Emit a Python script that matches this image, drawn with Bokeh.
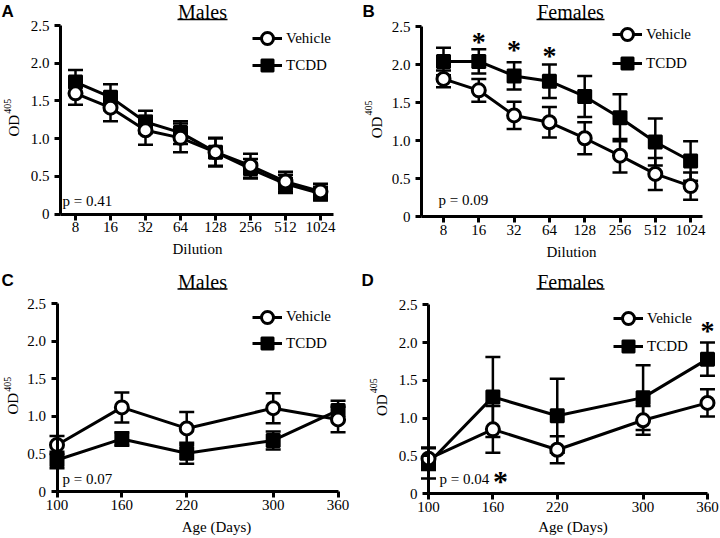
import math
from bokeh.plotting import figure
from bokeh.models import (ColumnDataSource, Whisker, TeeHead, Label, Legend,
                          LegendItem, FixedTicker, Range1d)
from bokeh.layouts import gridplot
from bokeh.embed import file_html
from bokeh.resources import INLINE

# ---------------- data ----------------
dilutions = ["8", "16", "32", "64", "128", "256", "512", "1024"]
ages = [100, 160, 220, 300, 360]
y_ticks = [0, 0.5, 1.0, 1.5, 2.0, 2.5]
y_tick_labels = ["0", "0.5", "1.0", "1.5", "2.0", "2.5"]

# A: Males, dilution
a_vehicle = [1.60, 1.41, 1.11, 1.01, 0.82, 0.64, 0.43, 0.30]
a_vehicle_err = [0.15, 0.18, 0.19, 0.19, 0.18, 0.16, 0.13, 0.10]
a_tcdd = [1.75, 1.55, 1.22, 1.08, 0.82, 0.60, 0.40, 0.27]
a_tcdd_err = [0.16, 0.17, 0.15, 0.15, 0.19, 0.13, 0.12, 0.09]

# B: Females, dilution
b_vehicle = [1.81, 1.66, 1.33, 1.24, 1.03, 0.80, 0.56, 0.40]
b_vehicle_err = [0.11, 0.15, 0.18, 0.20, 0.21, 0.22, 0.21, 0.18]
b_tcdd = [2.04, 2.04, 1.85, 1.78, 1.58, 1.30, 0.98, 0.73]
b_tcdd_err = [0.18, 0.16, 0.18, 0.22, 0.27, 0.31, 0.31, 0.26]
b_star_idx = [1, 2, 3]
b_star_y = [2.33, 2.22, 2.15]

# C: Males, age
c_vehicle = [0.62, 1.12, 0.84, 1.11, 0.96]
c_vehicle_err = [0.12, 0.20, 0.22, 0.20, 0.17]
c_tcdd = [0.42, 0.70, 0.51, 0.68, 1.08]
c_tcdd_err = [0.11, 0.09, 0.14, 0.12, 0.13]

# D: Females, age
d_vehicle = [0.46, 0.85, 0.58, 0.97, 1.20]
d_vehicle_err = [0.15, 0.31, 0.18, 0.19, 0.18]
d_tcdd = [0.40, 1.28, 1.03, 1.27, 1.78]
d_tcdd_err = [0.20, 0.53, 0.49, 0.43, 0.22]
d_star_x = [360]
d_star_y = [2.18]

p_values = ["p = 0.41", "p = 0.09", "p = 0.07", "p = 0.04"]

SERIF = "Liberation Serif"
SANS = "Liberation Sans"
W, H = 360, 269


def make_panel(cfg):
    y0px, y25px = cfg["ymap"]
    ppu = (y0px - y25px) / 2.5
    xpx0, xv0, xs = cfg["xmap"]

    def fx(px):
        return xv0 + (px - xpx0) / xs

    def fy(py):
        return (y0px - py) / ppu

    p = figure(width=W, height=H, x_range=Range1d(fx(0), fx(W)),
               y_range=Range1d(fy(H), fy(0)), output_backend="svg",
               toolbar_location=None, min_border_left=0, min_border_right=0,
               min_border_top=0, min_border_bottom=0)
    p.grid.visible = False
    p.outline_line_color = None
    p.background_fill_color = "white"
    p.border_fill_color = "white"

    for ax in p.axis:
        ax.axis_line_width = 3
        ax.axis_line_color = "black"
        ax.major_tick_line_width = 3
        ax.major_tick_line_color = "black"
        ax.major_tick_out = 6
        ax.major_tick_in = 0
        ax.minor_tick_line_color = None
        ax.major_label_text_font = SERIF
        ax.major_label_text_font_size = "15px"
        ax.major_label_text_color = "black"

    ax_x = fx(cfg["yaxis_px"])
    p.yaxis.fixed_location = ax_x
    p.yaxis.bounds = (0, 2.5)
    p.yaxis.ticker = FixedTicker(ticks=y_ticks)
    p.yaxis.major_label_overrides = {t: s for t, s in zip(y_ticks, y_tick_labels)}
    p.yaxis.major_label_standoff = 5

    xvals = cfg["x"]
    p.xaxis.fixed_location = 0
    p.xaxis.bounds = (ax_x, fx(cfg["xend_px"]))
    p.xaxis.ticker = FixedTicker(ticks=list(xvals))
    p.xaxis.major_label_overrides = {v: s for v, s in zip(xvals, cfg["xlabels"])}
    p.xaxis.major_label_standoff = 2

    renderers = {}
    for name, vals, errs, marker in [("TCDD", cfg["tcdd"], cfg["tcdd_err"], "square"),
                                     ("Vehicle", cfg["veh"], cfg["veh_err"], "circle")]:
        src = ColumnDataSource(dict(x=list(xvals), y=vals,
                                    lo=[v - e for v, e in zip(vals, errs)],
                                    hi=[v + e for v, e in zip(vals, errs)]))
        wh = Whisker(source=src, base="x", upper="hi", lower="lo",
                     line_width=2.5, line_color="black", level="underlay",
                     upper_head=TeeHead(size=15, line_width=2.5, line_color="black"),
                     lower_head=TeeHead(size=15, line_width=2.5, line_color="black"))
        p.add_layout(wh)
        ln = p.line("x", "y", source=src, line_width=3, line_color="black")
        if marker == "square":
            sc = p.scatter("x", "y", source=src, marker="square", size=13,
                           fill_color="black", line_color="black", line_width=2)
        else:
            sc = p.scatter("x", "y", source=src, marker="circle", size=13,
                           fill_color="white", line_color="black", line_width=3)
        renderers[name] = [ln, sc]

    # one legend per row so that each row can be placed exactly
    lx, rows = cfg["legend"]
    for name, rc in zip(["Vehicle", "TCDD"], rows):
        leg = Legend(items=[LegendItem(label=name, renderers=renderers[name])],
                     location=(lx, H - (rc + 19)), glyph_width=30, glyph_height=38,
                     spacing=0, padding=0, margin=0, border_line_color=None,
                     background_fill_alpha=0, label_standoff=4,
                     label_text_font=SERIF, label_text_font_size="15px",
                     label_text_color="black")
        p.add_layout(leg)

    def text(t, px, py, size, align="left", font=SERIF, style="normal",
             angle=0.0, yoff=0):
        p.add_layout(Label(x=fx(px), y=fy(py), text=t, text_font=font,
                           text_font_size=f"{size}px", text_font_style=style,
                           text_align=align, text_baseline="middle",
                           text_color="black", angle=angle, y_offset=yoff))

    # panel letter
    lpx, lpy = cfg["letter_pos"]
    text(cfg["letter"], lpx, lpy, 17, font=SANS, style="bold")
    # title + underline
    tcx, tcy, tw, tu = cfg["title_pos"]
    text(cfg["title"], tcx, tcy, 20, align="center")
    p.segment(x0=[fx(tcx - tw / 2)], y0=[fy(tu)], x1=[fx(tcx + tw / 2)], y1=[fy(tu)],
              line_width=1.5, line_color="black")
    # y axis label OD405 (rotated)
    odx, subx = cfg["od_x"]
    yc = (y0px + y25px) / 2
    text("OD", odx, yc + 6, 15, align="center", angle=math.pi / 2)
    text("405", subx, yc - 13.5, 10, align="center", angle=math.pi / 2)
    # x axis label
    xlx, xly = cfg["xlabel_pos"]
    text(cfg["xlabel"], xlx, xly, 15, align="center")
    # p value
    ppx, ppy = cfg["p_pos"]
    text(cfg["p"], ppx, ppy, 15)
    # asterisks (data positions)
    for sx, sy in zip(cfg.get("star_x", []), cfg.get("star_y", [])):
        p.add_layout(Label(x=sx, y=sy, text="*", text_font=SERIF,
                           text_font_size="28px", text_font_style="bold",
                           text_align="center", text_baseline="middle",
                           y_offset=-2, text_color="black"))
    for (spx, spy, ssz) in cfg.get("star_px", []):
        text("*", spx, spy, ssz, align="center", style="bold", yoff=-2)
    return p


idx = list(range(len(dilutions)))

pA = make_panel(dict(ymap=(213.5, 25), xmap=(75, 0, 35), yaxis_px=60, xend_px=333,
                     x=idx, xlabels=dilutions, veh=a_vehicle, veh_err=a_vehicle_err,
                     tcdd=a_tcdd, tcdd_err=a_tcdd_err, legend=(252, (38, 65)),
                     letter="A", letter_pos=(1, 11), title="Males",
                     title_pos=(202, 11.5, 50, 19), od_x=(13, 6.5),
                     xlabel="Dilution", xlabel_pos=(197, 248),
                     p=p_values[0], p_pos=(62, 200)))

pB = make_panel(dict(ymap=(216, 26), xmap=(83, 0, 35.3), yaxis_px=61, xend_px=342,
                     x=idx, xlabels=dilutions, veh=b_vehicle, veh_err=b_vehicle_err,
                     tcdd=b_tcdd, tcdd_err=b_tcdd_err, legend=(252, (34, 63)),
                     letter="B", letter_pos=(2, 11), title="Females",
                     title_pos=(210, 11.5, 68, 19), od_x=(16, 8),
                     xlabel="Dilution", xlabel_pos=(211, 251),
                     p=p_values[1], p_pos=(78, 199),
                     star_x=b_star_idx, star_y=b_star_y))

pC = make_panel(dict(ymap=(222, 34.3), xmap=(56.5, 100, 1.081), yaxis_px=56.5,
                     xend_px=338, x=ages, xlabels=[str(a) for a in ages],
                     veh=c_vehicle, veh_err=c_vehicle_err, tcdd=c_tcdd,
                     tcdd_err=c_tcdd_err, legend=(252, (47.7, 74)),
                     letter="C", letter_pos=(1, 11), title="Males",
                     title_pos=(202, 12, 50, 19.5), od_x=(12.5, 6.5),
                     xlabel="Age (Days)", xlabel_pos=(216, 257.5),
                     p=p_values[2], p_pos=(62, 209)))

pD = make_panel(dict(ymap=(224, 35.3), xmap=(68, 100, 1.073), yaxis_px=68,
                     xend_px=347, x=ages, xlabels=[str(a) for a in ages],
                     veh=d_vehicle, veh_err=d_vehicle_err, tcdd=d_tcdd,
                     tcdd_err=d_tcdd_err, legend=(253, (49, 77)),
                     letter="D", letter_pos=(1, 11), title="Females",
                     title_pos=(210, 12, 68, 19.5), od_x=(21, 13),
                     xlabel="Age (Days)", xlabel_pos=(212.5, 257.5),
                     p=p_values[3], p_pos=(79, 209),
                     star_x=d_star_x, star_y=d_star_y,
                     star_px=[(140, 209, 30)]))

grid = gridplot([[pA, pB], [pC, pD]], toolbar_location=None)

with open("out.html", "w") as f:
    f.write(file_html(grid, INLINE))
